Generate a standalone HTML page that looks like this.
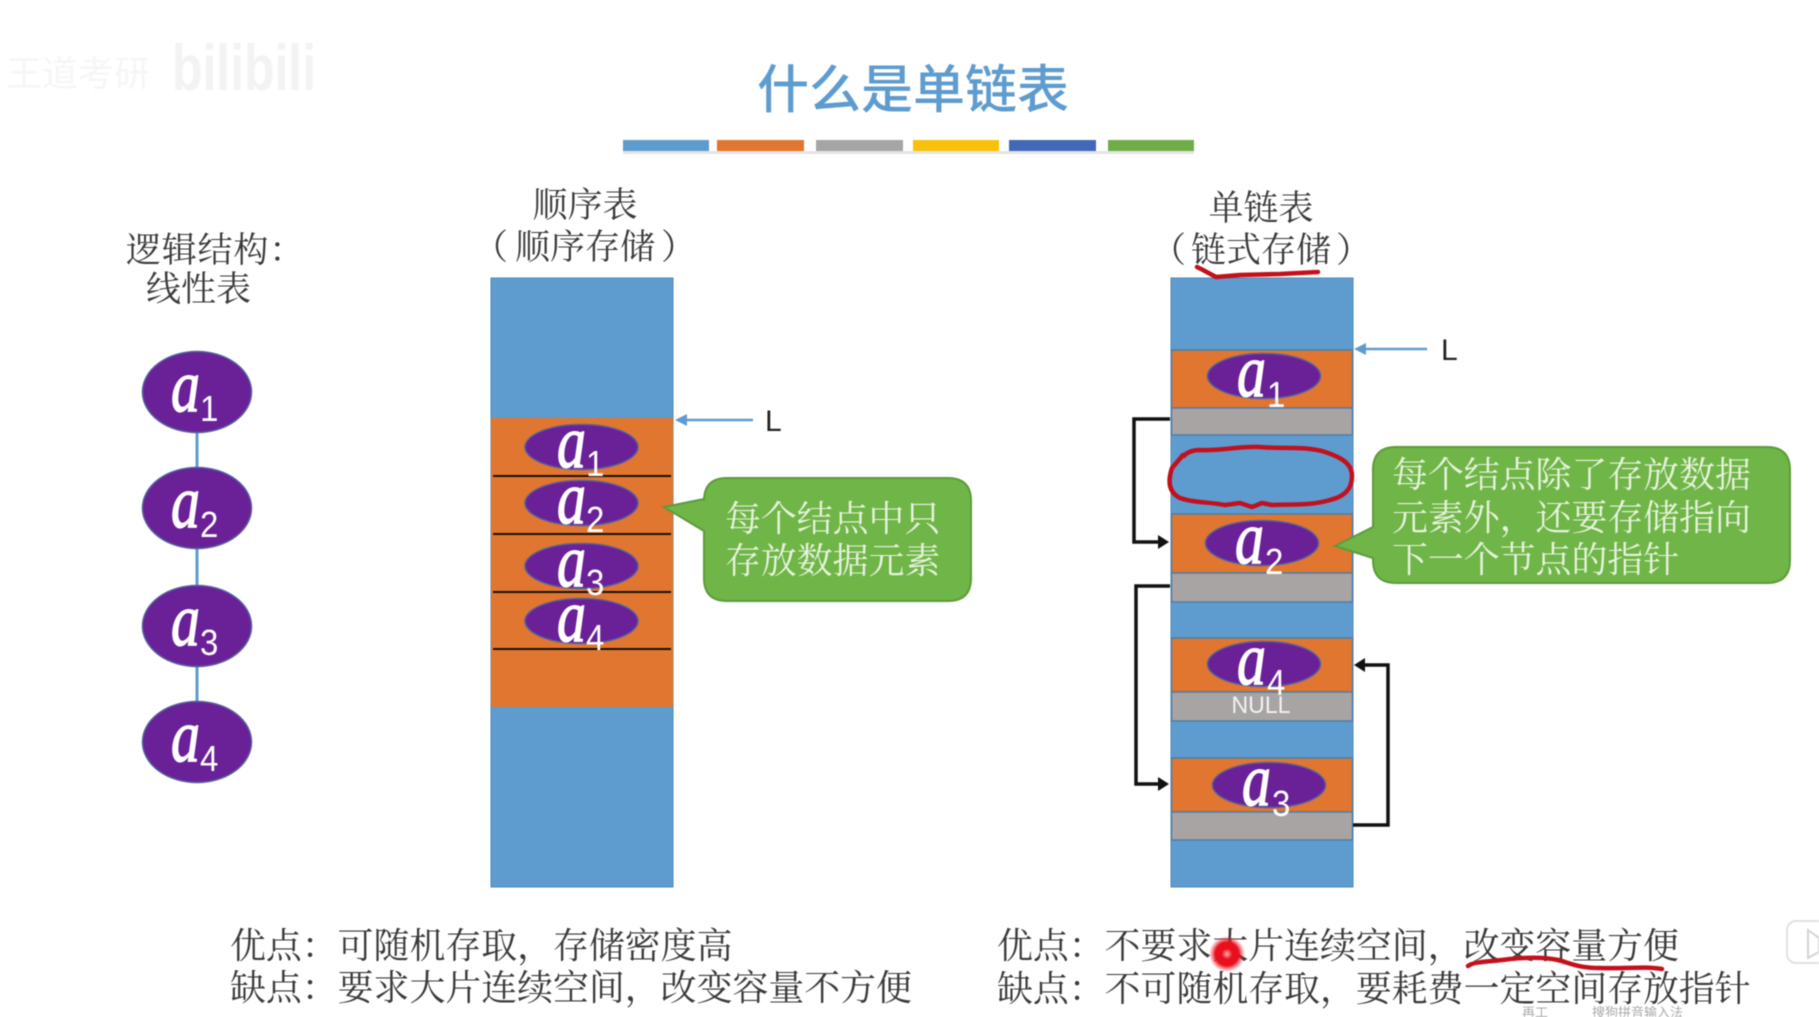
<!DOCTYPE html>
<html lang="zh">
<head>
<meta charset="utf-8">
<title>什么是单链表</title>
<style>
html,body{margin:0;padding:0;background:#fff;width:1819px;height:1017px;overflow:hidden}
svg{display:block;filter:blur(.5px)}
.z{font-family:"Liberation Serif","Noto Serif CJK SC",serif;font-size:35px;fill:#3a3a3a}
.b{font-family:"Liberation Serif","Noto Serif CJK SC",serif;font-size:35.9px;fill:#3a3a3a}
.c{font-family:"Liberation Serif","Noto Serif CJK SC",serif;font-size:35.9px;fill:#e6f3dc}
.a{font-family:"Liberation Serif",serif;font-style:italic;font-size:58px;fill:#fff;stroke:#fff;stroke-width:1}
.s{font-family:"Liberation Sans",sans-serif;font-size:33px;fill:#fff}
.L{font-family:"Liberation Sans",sans-serif;font-size:30px;fill:#222}
.red{fill:none;stroke:#c4101c;stroke-width:4.5;stroke-linecap:round;stroke-linejoin:round}
.blk{fill:none;stroke:#111;stroke-width:3.5}
</style>
</head>
<body>
<svg width="1819" height="1017" viewBox="0 0 1819 1017" xmlns="http://www.w3.org/2000/svg">
<defs>
<radialGradient id="dot"><stop offset="0" stop-color="#ffb0b0"/><stop offset=".3" stop-color="#e8101c"/><stop offset=".65" stop-color="#e8101c"/><stop offset="1" stop-color="#ff3040" stop-opacity="0"/></radialGradient>
</defs>
<rect width="1819" height="1017" fill="#fff"/>

<!-- watermark -->
<text x="6" y="86" font-family="'Liberation Sans','Noto Sans CJK SC',sans-serif" font-size="36" fill="#f6f6f6">王道考研</text>
<text transform="translate(172 90) scale(1 1.3)" font-family="'Liberation Sans',sans-serif" font-weight="bold" font-size="50" fill="#f3f3f3" textLength="144">bilibili</text>

<!-- title -->
<text x="913" y="108" text-anchor="middle" font-family="'Liberation Sans','Noto Sans CJK SC',sans-serif" font-size="52" font-weight="500" fill="#5e9ccf" textLength="312">什么是单链表</text>

<!-- colour bars -->
<g>
<rect x="623" y="140" width="86" height="11" fill="#5e9ccf"/>
<rect x="717" y="140" width="87" height="11" fill="#e0762f"/>
<rect x="816" y="140" width="87" height="11" fill="#a5a5a5"/>
<rect x="913" y="140" width="86" height="11" fill="#f8c20a"/>
<rect x="1009" y="140" width="87" height="11" fill="#4268b8"/>
<rect x="1108" y="140" width="86" height="11" fill="#70ad47"/>
<rect x="623" y="151" width="571" height="3" fill="#e4e4e4"/>
</g>

<!-- left labels -->
<text class="z" x="126" y="262" style="letter-spacing:.8px">逻辑结构：</text>
<text class="z" x="146" y="301">线性表</text>
<text class="z" x="585" y="217" text-anchor="middle">顺序表</text>
<text class="z" x="473" y="259">（</text><text class="z" x="515" y="259">顺序存储</text><text class="z" x="661" y="259">）</text>
<text class="z" x="1261" y="220" text-anchor="middle">单链表</text>
<text class="z" x="1151" y="262">（</text><text class="z" x="1191" y="262">链式存储</text><text class="z" x="1336" y="262">）</text>

<!-- logical list -->
<line x1="197" y1="430" x2="197" y2="472" stroke="#5e9ccf" stroke-width="3"/>
<line x1="197" y1="546" x2="197" y2="590" stroke="#5e9ccf" stroke-width="3"/>
<line x1="197" y1="664" x2="197" y2="706" stroke="#5e9ccf" stroke-width="3"/>
<g fill="#6a2097" stroke="#5560a0" stroke-width="1.5">
<ellipse cx="197" cy="392" rx="54.5" ry="40.5"/>
<ellipse cx="197" cy="508" rx="54.5" ry="40.5"/>
<ellipse cx="197" cy="626" rx="54.5" ry="40.5"/>
<ellipse cx="197" cy="742" rx="54.5" ry="40.5"/>
</g>
<g transform="translate(197 392)"><text class="a" transform="translate(-26 19) scale(1 1.3)">a</text><text class="s" transform="translate(3 29) scale(1 1.1)">1</text></g>
<g transform="translate(197 508)"><text class="a" transform="translate(-26 19) scale(1 1.3)">a</text><text class="s" transform="translate(3 29) scale(1 1.1)">2</text></g>
<g transform="translate(197 626)"><text class="a" transform="translate(-26 19) scale(1 1.3)">a</text><text class="s" transform="translate(3 29) scale(1 1.1)">3</text></g>
<g transform="translate(197 742)"><text class="a" transform="translate(-26 19) scale(1 1.3)">a</text><text class="s" transform="translate(3 29) scale(1 1.1)">4</text></g>

<!-- sequential column -->
<rect x="491" y="278" width="182" height="609" fill="#5e9ccf" stroke="#4f86b8" stroke-width="1"/>
<rect x="491" y="418" width="182" height="289" fill="#e0762f"/>
<g stroke="#1a1208" stroke-width="2">
<line x1="493" y1="476" x2="671" y2="476"/>
<line x1="493" y1="534" x2="671" y2="534"/>
<line x1="493" y1="592" x2="671" y2="592"/>
<line x1="493" y1="649" x2="671" y2="649"/>
</g>
<g fill="#6a2097" stroke="#5560a0" stroke-width="1.5">
<ellipse cx="581.5" cy="447" rx="56.5" ry="22.5"/>
<ellipse cx="581.5" cy="503" rx="56.5" ry="22.5"/>
<ellipse cx="581.5" cy="566" rx="56.5" ry="22.5"/>
<ellipse cx="581.5" cy="621" rx="56.5" ry="22.5"/>
</g>
<g transform="translate(581 447)"><text class="a" transform="translate(-24 20) scale(1 1.3)">a</text><text class="s" transform="translate(5 29) scale(1 1.1)">1</text></g>
<g transform="translate(581 503)"><text class="a" transform="translate(-24 20) scale(1 1.3)">a</text><text class="s" transform="translate(5 29) scale(1 1.1)">2</text></g>
<g transform="translate(581 566)"><text class="a" transform="translate(-24 20) scale(1 1.3)">a</text><text class="s" transform="translate(5 29) scale(1 1.1)">3</text></g>
<g transform="translate(581 621)"><text class="a" transform="translate(-24 20) scale(1 1.3)">a</text><text class="s" transform="translate(5 29) scale(1 1.1)">4</text></g>

<!-- L arrow (seq) -->
<line x1="753" y1="420" x2="682" y2="420" stroke="#5e9ccf" stroke-width="2.5"/>
<polygon points="675,420 687,414 687,426" fill="#5e9ccf"/>
<text class="L" x="765" y="431">L</text>

<!-- callout 1 -->
<path d="M727 478H948Q971 478 971 501V578Q971 601 948 601H727Q704 601 704 578V531L664 507L704 499V501Q704 478 727 478Z" fill="#70b548" stroke="#5c9c3a" stroke-width="2"/>
<text class="c" x="725" y="531">每个结点中只</text>
<text class="c" x="725" y="573">存放数据元素</text>

<!-- linked column -->
<rect x="1171" y="278" width="182" height="609" fill="#5e9ccf" stroke="#4f86b8" stroke-width="1"/>
<g stroke="#4f7ea8" stroke-width="1.5">
<rect x="1171.5" y="350" width="181" height="58" fill="#e0762f"/>
<rect x="1171.5" y="408" width="181" height="27" fill="#a8a4a4"/>
<rect x="1171.5" y="514" width="181" height="59" fill="#e0762f"/>
<rect x="1171.5" y="573" width="181" height="29" fill="#a8a4a4"/>
<rect x="1171.5" y="638" width="181" height="54" fill="#e0762f"/>
<rect x="1171.5" y="692" width="181" height="29" fill="#a8a4a4"/>
<rect x="1171.5" y="758" width="181" height="54" fill="#e0762f"/>
<rect x="1171.5" y="812" width="181" height="28" fill="#a8a4a4"/>
</g>
<g fill="#6a2097" stroke="#5560a0" stroke-width="1.5">
<ellipse cx="1264" cy="376" rx="56.5" ry="22.5"/>
<ellipse cx="1262" cy="543" rx="56.5" ry="22.5"/>
<ellipse cx="1264" cy="664" rx="56.5" ry="22.5"/>
<ellipse cx="1269" cy="785" rx="56.5" ry="22.5"/>
</g>
<g transform="translate(1263 376)"><text class="a" transform="translate(-26 20) scale(1 1.3)">a</text><text class="s" transform="translate(4 31) scale(1 1.1)">1</text></g>
<g transform="translate(1261 543)"><text class="a" transform="translate(-26 20) scale(1 1.3)">a</text><text class="s" transform="translate(4 31) scale(1 1.1)">2</text></g>
<g transform="translate(1263 664)"><text class="a" transform="translate(-26 20) scale(1 1.3)">a</text><text class="s" transform="translate(4 31) scale(1 1.1)">4</text></g>
<g transform="translate(1268 785)"><text class="a" transform="translate(-26 20) scale(1 1.3)">a</text><text class="s" transform="translate(4 31) scale(1 1.1)">3</text></g>
<text x="1261" y="713" text-anchor="middle" font-family="'Liberation Sans',sans-serif" font-size="24" fill="#f2f2f2" textLength="59" lengthAdjust="spacingAndGlyphs">NULL</text>

<!-- L arrow (linked) -->
<line x1="1427" y1="349" x2="1361" y2="349" stroke="#5e9ccf" stroke-width="2.5"/>
<polygon points="1354,349 1366,343 1366,355" fill="#5e9ccf"/>
<text class="L" x="1441" y="360">L</text>

<!-- black pointers -->
<path class="blk" d="M1170 419H1134V542H1160"/>
<polygon points="1169,542 1158,535 1158,549" fill="#111"/>
<path class="blk" d="M1170 586H1136V784H1160"/>
<polygon points="1169,784 1158,777 1158,791" fill="#111"/>
<path class="blk" d="M1353 825H1388V665H1363"/>
<polygon points="1354,665 1365,658 1365,672" fill="#111"/>

<!-- callout 2 -->
<path d="M1396 447H1767Q1790 447 1790 470V560Q1790 583 1767 583H1396Q1373 583 1373 560V558L1335 546L1373 527V470Q1373 447 1396 447Z" fill="#70b548" stroke="#5c9c3a" stroke-width="2"/>
<text class="c" x="1392" y="487">每个结点除了存放数据</text>
<text class="c" x="1392" y="530">元素外，还要存储指向</text>
<text class="c" x="1392" y="572">下一个节点的指针</text>

<!-- bottom text -->
<text class="b" x="230" y="958">优点：可随机存取，存储密度高</text>
<text class="b" x="230" y="1000">缺点：要求大片连续空间，改变容量不方便</text>
<text class="b" x="997" y="958">优点：不要求大片连续空间，改变容量方便</text>
<text class="b" x="997" y="1001">缺点：不可随机存取，要耗费一定空间存放指针</text>

<!-- red annotations -->
<path class="red" d="M1197 267L1203 270L1216 277L1240 275L1280 274L1318 272" stroke-width="5.5"/>
<path class="red" d="M1183 455L1172 468C1168 480 1168 492 1180 498C1195 503 1210 502 1225 505L1240 503L1252 507L1262 503L1272 505C1290 504 1310 506 1330 500C1346 496 1352 488 1352 476C1352 462 1338 456 1322 451C1300 446 1280 449 1260 447C1240 446 1220 451 1200 450C1192 450 1186 453 1184 456" stroke-width="5"/>
<path class="red" d="M1468 966C1474 961 1490 962 1510 959C1530 957 1545 957 1558 960C1570 963 1578 968 1600 968C1625 969 1645 966 1662 969" stroke-width="3.5"/>
<circle cx="1227" cy="954" r="18" fill="url(#dot)"/>

<!-- bottom-right fragments -->
<text x="1522" y="1017" font-family="'Liberation Sans','Noto Sans CJK SC',sans-serif" font-size="13" fill="#aaa">再工</text>
<text x="1592" y="1017" font-family="'Liberation Sans','Noto Sans CJK SC',sans-serif" font-size="13" fill="#aaa">搜狗拼音输入法</text>
<rect x="1787" y="921" width="40" height="42" rx="9" fill="#fff" stroke="#e2e2e2" stroke-width="2"/>
<path d="M1808 930L1819 938V952L1808 958Z" fill="#fff" stroke="#d4d4d4" stroke-width="2"/>
</svg>
</body>
</html>
